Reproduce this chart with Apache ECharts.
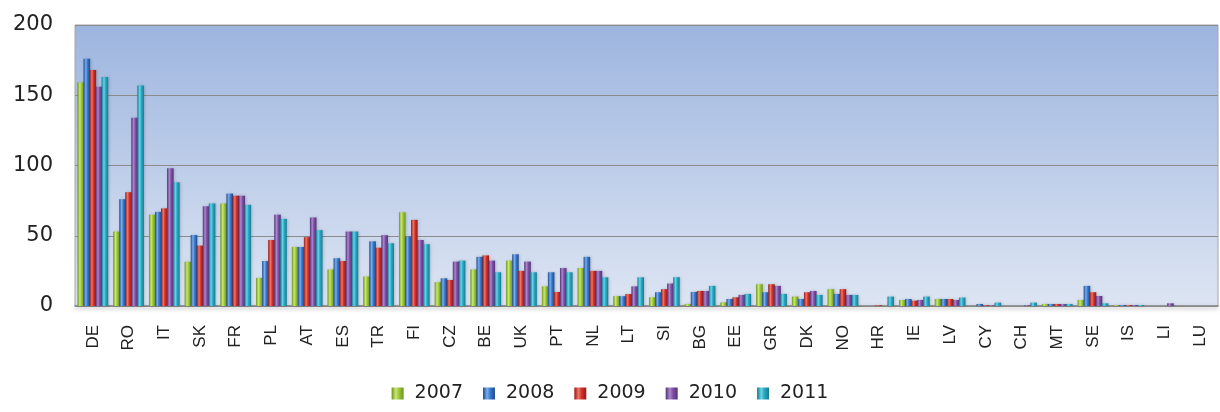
<!DOCTYPE html>
<html>
<head>
<meta charset="utf-8">
<script src="https://cdn.jsdelivr.net/npm/echarts@6/dist/echarts.min.js"></script>
<style>
  html, body { margin: 0; padding: 0; background: #ffffff; }
  #chart { width: 1220px; height: 412px; }
</style>
</head>
<body>
<div id="chart"></div>
<script>
// Countries on the category axis
const countries = ['DE','RO','IT','SK','FR','PL','AT','ES','TR','FI','CZ','BE','UK','PT','NL','LT','SI','BG','EE','GR','DK','NO','HR','IE','LV','CY','CH','MT','SE','IS','LI','LU'];

// Yearly values per country
const years = ['2007','2008','2009','2010','2011'];
const v2007 = [159,53,65,31.5,73,20,42,26,21,66.7,17,26,32.3,14,27,7,6.2,1.4,2.6,15.5,6.7,12,0,4.3,5,0,0,1.4,4.3,0.5,0,0];
const v2008 = [176,76,67,50.5,80,32,42,34,46,49.4,19.7,35,36.8,24,35,7,9.8,10,5,9.8,5,8.6,0,5,5,1.4,0,1.4,14.3,0.7,0,0];
const v2009 = [168,81,69.5,43,78.5,47,49,32,41.5,61.3,18.5,36,25,10,25,8.5,12,10.7,6.2,15.5,9.8,12,0.5,3.8,5,0.5,0,1.4,9.8,0.5,0,0];
const v2010 = [156,134,98,71,78.5,65,63,53,50.4,47,31.6,32.3,31.6,27,25,14,16,10.7,7.9,14.3,10.7,7.9,0,4.3,4.3,0.5,0.5,1.4,7.1,0.7,1.9,0];
const v2011 = [163,157,88,73,72,62,54,53,44.7,44,32.3,24,24,24,20.4,20.4,20.5,14.3,8.6,8.6,7.9,7.9,6.7,6.7,6,2.4,2.4,1.4,1.9,0.7,0,0];

// Value axis ticks
const yTicks = { min: 0, max: 200, interval: 50 };

// Cylinder-like shading: dark edge, highlight, dark edge
const palette = [
  { dark: '#6a9418', mid: '#9cc63c', light: '#cbe872' },
  { dark: '#1c4b8e', mid: '#3a78c9', light: '#78aef0' },
  { dark: '#931a17', mid: '#d0322c', light: '#f27466' },
  { dark: '#54307a', mid: '#7e50a5', light: '#aa88cc' },
  { dark: '#177a91', mid: '#2aa9c4', light: '#68d4e8' }
];

function cylinder(c) {
  return {
    type: 'linear', x: 0, y: 0, x2: 1, y2: 0,
    colorStops: [
      { offset: 0, color: c.dark },
      { offset: 0.35, color: c.light },
      { offset: 0.6, color: c.mid },
      { offset: 1, color: c.dark }
    ]
  };
}

const seriesValues = [v2007, v2008, v2009, v2010, v2011];

const chart = echarts.init(document.getElementById('chart'), null, { renderer: 'canvas' });

chart.setOption({
  animation: false,
  backgroundColor: '#ffffff',
  grid: {
    left: 75, right: 2, top: 25, bottom: 106,
    show: true,
    borderColor: '#a6a6a6',
    borderWidth: 1,
    backgroundColor: {
      type: 'linear', x: 0, y: 0, x2: 0, y2: 1,
      colorStops: [
        { offset: 0, color: '#9db5df' },
        { offset: 1, color: '#dde5f3' }
      ]
    }
  },
  legend: {
    data: years,
    bottom: 4,
    left: 'center',
    itemWidth: 12,
    itemHeight: 12,
    itemGap: 20,
    icon: 'rect',
    textStyle: { fontFamily: 'DejaVu Sans', fontSize: 19, color: '#222', padding: [0, 0, 0, 6] }
  },
  xAxis: {
    type: 'category',
    data: countries,
    axisTick: { show: false },
    axisLine: {
      lineStyle: {
        color: '#8a8a8a', width: 1.5,
        shadowColor: 'rgba(0,0,0,0.35)', shadowBlur: 4, shadowOffsetY: 2
      }
    },
    axisLabel: {
      rotate: 90,
      margin: 19,
      fontFamily: 'Liberation Sans',
      fontSize: 17,
      color: '#222'
    }
  },
  yAxis: {
    type: 'value',
    min: yTicks.min,
    max: yTicks.max,
    interval: yTicks.interval,
    axisLine: { show: false },
    axisTick: { show: false },
    splitLine: { lineStyle: { color: '#8c8c8c', width: 1.2 } },
    axisLabel: {
      margin: 22,
      fontFamily: 'DejaVu Sans',
      fontSize: 21,
      color: '#222'
    }
  },
  series: years.map((y, i) => ({
    name: y,
    type: 'bar',
    data: seriesValues[i],
    barGap: '-8%',
    barCategoryGap: '14%',
    itemStyle: {
      color: cylinder(palette[i]),
      shadowColor: 'rgba(0,0,0,0.18)',
      shadowBlur: 3,
      shadowOffsetX: 1
    },
    emphasis: { disabled: true }
  })),
  color: palette.map(p => p.mid)
});
</script>
</body>
</html>
